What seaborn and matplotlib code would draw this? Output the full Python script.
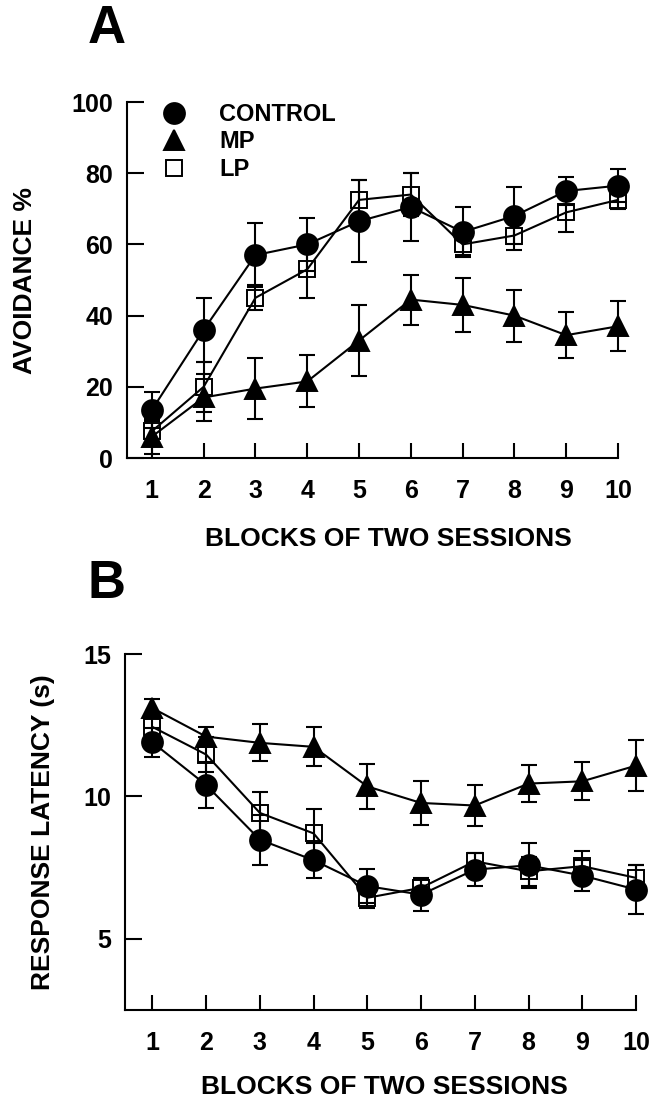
import numpy as np
import pandas as pd
import matplotlib
matplotlib.use("Agg")
import matplotlib.pyplot as plt
from matplotlib.lines import Line2D
import seaborn as sns

# blocks of two sessions
blocks = [1, 2, 3, 4, 5, 6, 7, 8, 9, 10]

# panel A - avoidance %
control_a = [13.5, 36, 57, 60, 66.5, 70.5, 63.5, 68, 75, 76.5]
control_a_sem = [5, 9, 9, 7.5, 11.5, 9.5, 7, 8, 4, 4.7]
mp_a = [6, 17, 19.5, 21.5, 33, 44.5, 43, 40, 34.5, 37]
mp_a_sem = [5, 6.5, 8.5, 7.3, 10, 7, 7.6, 7.3, 6.4, 7]
lp_a = [7.5, 20, 45, 53, 72.5, 74, 60, 62.5, 69, 72.5]
lp_a_sem = [3, 7, 3.5, 8, 5.5, 6, 3, 4, 5.5, 2.5]

# panel B - response latency (s)
control_b = [11.9, 10.4, 8.48, 7.76, 6.85, 6.55, 7.43, 7.58, 7.22, 6.73]
control_b_sem = [0.5, 0.8, 0.88, 0.62, 0.6, 0.58, 0.58, 0.78, 0.55, 0.85]
mp_b = [13.1, 12.1, 11.88, 11.74, 10.35, 9.77, 9.68, 10.45, 10.53, 11.08]
mp_b_sem = [0.33, 0.33, 0.65, 0.68, 0.8, 0.78, 0.72, 0.65, 0.67, 0.9]
lp_b = [12.44, 11.47, 9.42, 8.7, 6.44, 6.79, 7.72, 7.37, 7.55, 7.14]
lp_b_sem = [0.3, 0.6, 0.72, 0.86, 0.35, 0.3, 0.3, 0.5, 0.52, 0.46]

group_names = ["CONTROL", "MP", "LP"]

sns.set_style("ticks")
plt.rcParams["font.family"] = ["Liberation Sans", "DejaVu Sans"]
plt.rcParams["font.weight"] = "bold"
for key in ["text.color", "axes.labelcolor", "xtick.color", "ytick.color",
            "axes.edgecolor"]:
    plt.rcParams[key] = "black"

styles = {
    "CONTROL": dict(marker="o", markersize=15, markerfacecolor="black"),
    "MP": dict(marker="^", markersize=15, markerfacecolor="black"),
    "LP": dict(marker="s", markersize=12, markerfacecolor="none"),
}

fig = plt.figure(figsize=(6.61, 11.03), dpi=100)
ax_a = fig.add_axes([127 / 661, 1 - 458 / 1103, 491 / 661, 356 / 1103])
ax_b = fig.add_axes([125 / 661, 1 - 1010 / 1103, 511 / 661, 356 / 1103])


def draw_panel(ax, series):
    for name, vals, sem in series:
        eb = ax.errorbar(blocks, vals, yerr=sem, fmt="none", ecolor="black",
                         elinewidth=1.5, capsize=6, capthick=1.5, zorder=2)
        for art in eb.lines[1] + eb.lines[2]:
            art.set_clip_on(False)
        df = pd.DataFrame({"block": blocks, "value": vals})
        sns.lineplot(data=df, x="block", y="value", ax=ax, color="black",
                     linewidth=1.5, markeredgecolor="black",
                     markeredgewidth=1.4, errorbar=None, zorder=3,
                     clip_on=False, **styles[name])
    sns.despine(ax=ax)
    for side in ["left", "bottom"]:
        ax.spines[side].set_linewidth(1.5)
    ax.set_xticks(blocks)
    ax.tick_params(axis="both", direction="in", width=1.5, labelsize=18)
    ax.tick_params(axis="x", length=11, pad=15)
    ax.tick_params(axis="y", length=12, pad=10)
    for lab in ax.get_xticklabels() + ax.get_yticklabels():
        lab.set_fontweight("bold")
    ax.set_xlabel("BLOCKS OF TWO SESSIONS", fontsize=19, fontweight="bold")


draw_panel(ax_a, [("CONTROL", control_a, control_a_sem),
                  ("MP", mp_a, mp_a_sem),
                  ("LP", lp_a, lp_a_sem)])
ax_a.set_xlim(0.52, 10)
ax_a.set_ylim(0, 100)
ax_a.set_yticks([0, 20, 40, 60, 80, 100])
ax_a.set_ylabel("AVOIDANCE %", fontsize=19, fontweight="bold")
ax_a.yaxis.set_label_coords(-0.183, 0.5)
ax_a.xaxis.set_label_coords(0.532, -0.194)

draw_panel(ax_b, [("CONTROL", control_b, control_b_sem),
                  ("MP", mp_b, mp_b_sem),
                  ("LP", lp_b, lp_b_sem)])
ax_b.set_xlim(0.49, 10)
ax_b.set_ylim(2.5, 15)
ax_b.set_yticks([5, 10, 15])
ax_b.set_ylabel("RESPONSE LATENCY (s)", fontsize=19, fontweight="bold")
ax_b.yaxis.set_label_coords(-0.137, 0.5)
ax_b.xaxis.set_label_coords(0.507, -0.183)

# legend, markers only
handles = [Line2D([], [], linestyle="none", color="black",
                  markeredgecolor="black", markeredgewidth=1.4, **styles[n])
           for n in group_names]
leg = ax_a.legend(handles, group_names, loc="upper left",
                  bbox_to_anchor=(160 / 661, 1 - 103 / 1103),
                  bbox_transform=fig.transFigure, frameon=False,
                  handlelength=1.2, handletextpad=1.3, labelspacing=0.19,
                  borderpad=0, borderaxespad=0,
                  prop={"size": 17, "weight": "bold"})

fig.text(107 / 661, 1 - 29 / 1103, "A", fontsize=38, fontweight="bold",
         ha="center", va="center")
fig.text(106 / 661, 1 - 584 / 1103, "B", fontsize=38, fontweight="bold",
         ha="center", va="center")

fig.savefig("out.png", dpi=100)
